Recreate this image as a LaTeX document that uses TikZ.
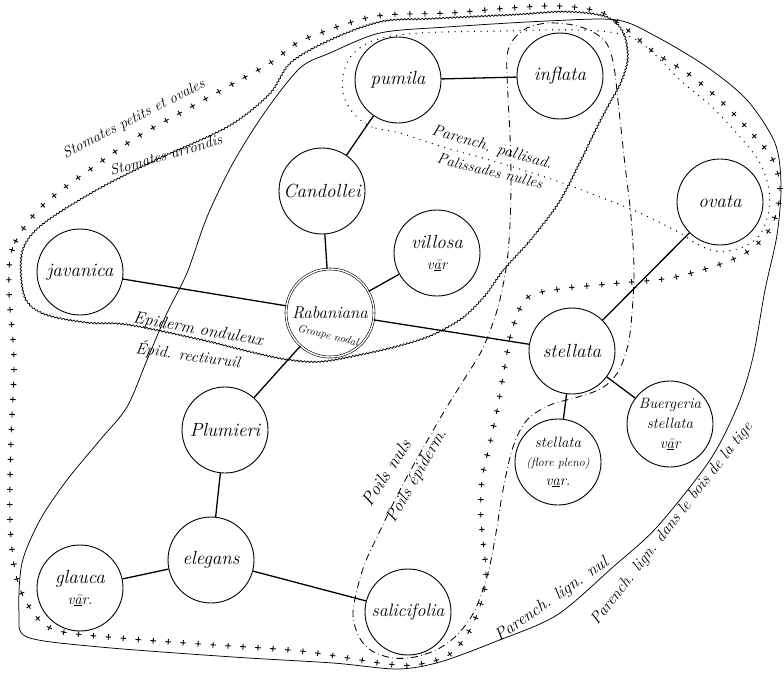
\documentclass[tikz,border=0pt]{standalone}
\usepackage{fontspec}
\usetikzlibrary{decorations.pathmorphing,decorations.markings}
\tikzset{
  species/.style={circle, draw, fill=white, line width=0.9pt, minimum size=86pt, inner sep=0pt, align=center, font=\itshape\fontsize{19}{21}\selectfont},
  link/.style={line width=1.3pt},
  note/.style={font=\itshape\fontsize{15}{16}\selectfont, inner sep=0pt},
  crossline/.style={postaction={decorate}, decoration={markings, mark=between positions 0 and 1 step 15pt with {\draw[line width=0.9pt] (-2.8pt,0)--(2.8pt,0) (0,-2.8pt)--(0,2.8pt);}}},
  wavyline/.style={line width=0.75pt, decorate, decoration={snake, amplitude=0.7pt, segment length=3.5pt}},
  solidline/.style={line width=0.75pt},
  dotline/.style={line width=1.4pt, dash pattern=on 0pt off 6.5pt, line cap=round},
  dashdotline/.style={line width=0.85pt, dash pattern=on 7pt off 3.5pt on 0.6pt off 3.5pt},
}
\begin{document}
\begin{tikzpicture}[x=1pt,y=-1pt]
\fill[white] (0,0) rectangle (784,672);
\useasboundingbox (0,0) rectangle (784,672);

% stomata boundary (crosses)
\path[crossline] plot[smooth cycle, tension=0.55] coordinates {
 (32,217) (12,250) (9,293) (14,360) (11,440) (10,520) (16,575) (30,608) (55,630) (120,638) (200,644) (300,651) (380,663) (413,665) (447,656) (468,633) (481,603) (486,573) (481,520) (482,480) (490,443) (498,405) (505,365) (512,330) (527,298) (560,289) (620,283) (670,278) (718,265) (750,250) (772,225) (780,190) (773,160) (755,137) (725,105) (690,75) (655,53) (625,28) (600,12) (560,6) (510,8) (450,13) (385,15) (352,22) (323,32) (297,43) (270,63) (227,87) (182,112) (137,137) (92,168) (55,195)};

% palisade boundary (dotted)
\draw[dotline] plot[smooth cycle, tension=0.55] coordinates {
 (400,133) (372,127) (355,115) (344,97) (343,75) (352,55) (375,40) (420,33) (500,31) (580,30) (625,35) (650,50) (680,80) (712,107) (740,137) (760,163) (769,190) (768,215) (758,237) (738,249) (715,251) (695,243) (680,233) (640,213) (600,197) (560,182) (500,163) (450,149) (427,142)};

% epidermis boundary (wavy)
\draw[wavyline] plot[smooth cycle, tension=0.55] coordinates {
 (290,63) (330,40) (380,22) (430,19) (513,15) (565,12) (605,17) (622,32) (627,58) (620,83) (608,105) (595,130) (578,165) (558,203) (530,240) (503,270) (485,295) (462,318) (430,336) (395,347) (360,355) (320,362) (287,360) (253,353) (200,340) (127,325) (87,323) (45,315) (25,300) (20,270) (24,245) (45,222) (100,188) (160,158) (227,127) (268,95)};

% lignified parenchyma boundary (solid)
\draw[solidline] plot[smooth cycle, tension=0.5] coordinates {
 (300,68) (330,53) (380,33) (447,27) (547,21) (617,20) (657,37) (707,67) (747,100) (775,143) (781,185) (777,235) (765,290) (753,357) (738,405) (710,460) (657,527) (613,567) (557,615) (497,641) (440,662) (397,669) (333,663) (233,657) (100,647) (27,637) (19,613) (22,563) (40,520) (67,480) (100,440) (127,407) (147,360) (167,313) (187,273) (207,217) (233,163) (265,112)};

% hairs boundary (dash-dot)
\draw[dashdotline] plot[smooth cycle, tension=0.55] coordinates {
 (507,57) (513,40) (527,28) (548,23) (573,25) (593,32) (607,44) (614,67) (619,110) (625,165) (631,217) (634,270) (632,313) (628,345) (618,372) (602,388) (578,397) (550,405) (527,420) (513,447) (503,490) (496,533) (488,573) (475,610) (458,634) (438,649) (415,657) (393,658) (372,651) (359,637) (353,615) (357,590) (365,563) (378,535) (400,490) (422,450) (445,410) (465,378) (482,350) (494,320) (501,295) (507,262) (510,225) (511,180) (510,135) (508,97)};

% species
\node[species] (pumila) at (398,80) {pumila};
\node[species] (inflata) at (560,76) {inflata};
\node[species] (candollei) at (322,191) {Candollei};
\node[species] (villosa) at (437,253) {villosa\\{\fontsize{15}{16}\selectfont v\underline{\=a}r}};
\node[species] (javanica) at (80,272) {javanica};
\node[species, double, double distance=1.4pt, line width=0.6pt, minimum size=88pt, font=\itshape\fontsize{17}{19}\selectfont] (rabaniana) at (330,313) {Rabaniana};
\node[font=\itshape\fontsize{11}{12}\selectfont, rotate=-14, inner sep=0pt] (nodal) at (328,336) {Groupe nodal};
\node[species] (plumieri) at (225,430) {Plumieri};
\node[species] (elegans) at (211,560) {elegans};
\node[species] (glauca) at (80,588) {glauca\\{\fontsize{15}{16}\selectfont v\underline{\=a}r.}};
\node[species, font=\itshape\fontsize{18}{20}\selectfont] (salicifolia) at (408,612) {salicifolia};
\node[species] (stellata) at (572,351) {stellata};
\node[species, font=\itshape\fontsize{15}{19}\selectfont] (pleno) at (558,462) {stellata\\{\fontsize{12}{19}\selectfont(flore pleno)}\\v\underline{a}r.};
\node[species, font=\itshape\fontsize{15}{20}\selectfont] (buergeria) at (670,424) {Buergeria\\stellata\\v\underline{\=a}r};
\node[species] (ovata) at (720,202) {ovata};

% links
\draw[link] (pumila) -- (inflata);
\draw[link] (pumila) -- (candollei);
\draw[link] (candollei) -- (rabaniana);
\draw[link] (villosa) -- (rabaniana);
\draw[link] (javanica) -- (rabaniana);
\draw[link] (rabaniana) -- (stellata);
\draw[link] (rabaniana) -- (plumieri);
\draw[link] (plumieri) -- (elegans);
\draw[link] (elegans) -- (glauca);
\draw[link] (elegans) -- (salicifolia);
\draw[link] (stellata) -- (ovata);
\draw[link] (stellata) -- (pleno);
\draw[link] (stellata) -- (buergeria);

% annotations
\node[note, rotate=27] (stom1) at (134,119) {Stomates petits et ovales};
\node[note, rotate=16] (stom2) at (166,155) {Stomates arrondis};
\node[note, rotate=-10, font=\itshape\fontsize{17}{18}\selectfont] (epi1) at (198,330) {Epiderm onduleux};
\node[note, rotate=-8, font=\itshape\fontsize{16}{17}\selectfont] (epi2) at (188,355) {Épid. rectiuruil};
\node[note, rotate=-16, font=\itshape\fontsize{16}{17}\selectfont] (pal1) at (492,148) {Parench. pallisad.};
\node[note, rotate=-14] (pal2) at (490,171) {Palissades nulles};
\node[note, rotate=57, font=\itshape\fontsize{18}{19}\selectfont] (poil1) at (386,473) {Poils nuls};
\node[note, rotate=60, font=\itshape\fontsize{17}{18}\selectfont] (poil2) at (417,476) {Poils épiderm.};
\node[note, rotate=35, font=\itshape\fontsize{17}{18}\selectfont] (lign1) at (552,600) {Parench. lign. nul};
\node[note, rotate=52, font=\itshape\fontsize{16}{17}\selectfont] (lign2) at (672,524) {Parench. lign. dans le bois de la tige};
\end{tikzpicture}
\end{document}
